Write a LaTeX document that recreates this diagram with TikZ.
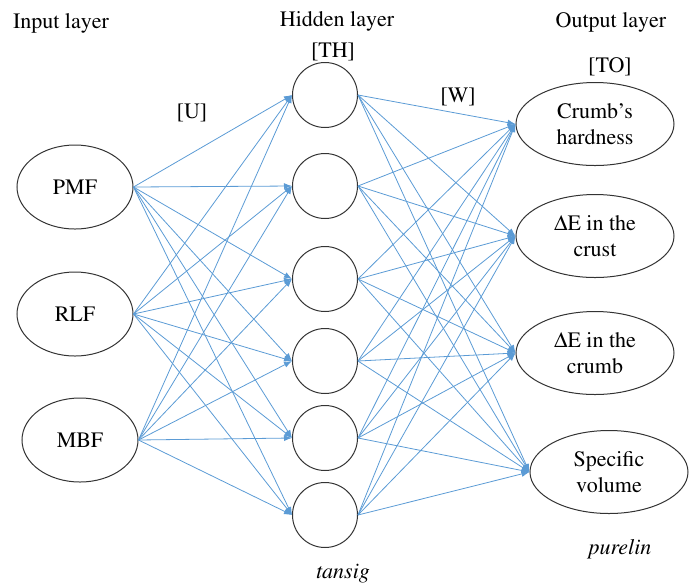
\documentclass[tikz,border=0pt]{standalone}
\usepackage[T1]{fontenc}
\usepackage{mathptmx}
\usepackage{tikz}
\usetikzlibrary{shapes.geometric, arrows.meta}
\definecolor{linkcolor}{RGB}{91,155,213}

\begin{document}
\begin{tikzpicture}[x=0.5pt, y=-0.5pt, font=\fontsize{11}{13}\selectfont]
	\tikzstyle{inp}=[ellipse, draw=black!80, line width=0.5pt, minimum width=58pt, minimum height=42pt, inner sep=0pt]
	\tikzstyle{hid}=[circle, draw=black!80, line width=0.5pt, minimum size=32.5pt, inner sep=0pt]
	\tikzstyle{outp}=[ellipse, draw=black!80, line width=0.5pt, minimum width=79pt, minimum height=41.5pt, inner sep=0pt, align=center]
	\tikzstyle{link}=[draw=linkcolor, line width=0.4pt, -{Latex[length=4pt,width=3pt]}]
	\useasboundingbox (0,0) rectangle (693,586);

	% input layer
	\node (i1) at (75,187) [inp]{PMF};
	\node (i2) at (75,314) [inp]{RLF};
	\node (i3) at (80,440) [inp]{MBF};

	% hidden layer
	\node (h1) at (325,95) [hid]{};
	\node (h2) at (325,186) [hid]{};
	\node (h3) at (325,279) [hid]{};
	\node (h4) at (325,361) [hid]{};
	\node (h5) at (325,438) [hid]{};
	\node (h6) at (325,515) [hid]{};

	% output layer
	\node (o1) at (595,124) [outp]{Crumb's\\hardness};
	\node (o2) at (595,236) [outp]{$\Delta$E in the\\crust};
	\node (o3) at (595,353) [outp]{$\Delta$E in the\\crumb};
	\node (o4) at (609,472) [outp]{Specific\\volume};

	% labels
	\node (tin) at (61,23) {Input layer};
	\node (thid) at (337,21) {Hidden layer};
	\node (tth) at (333,52) {[TH]};
	\node (tout) at (611,22) {Output layer};
	\node (tto) at (610,67) {[TO]};
	\node (tu) at (192,113) {[U]};
	\node (tw) at (458,97) {[W]};
	\node (ttan) at (343,574) {\textit{tansig}};
	\node (tpur) at (620,549) {\textit{purelin}};

	\foreach \i in {1,2,3}
		\foreach \h in {1,...,6}
			\draw[link] (i\i.east) -- (h\h.west);
	\foreach \h in {1,...,6}
		\foreach \o in {1,...,4}
			\draw[link] (h\h.east) -- (o\o.west);
\end{tikzpicture}
\end{document}
